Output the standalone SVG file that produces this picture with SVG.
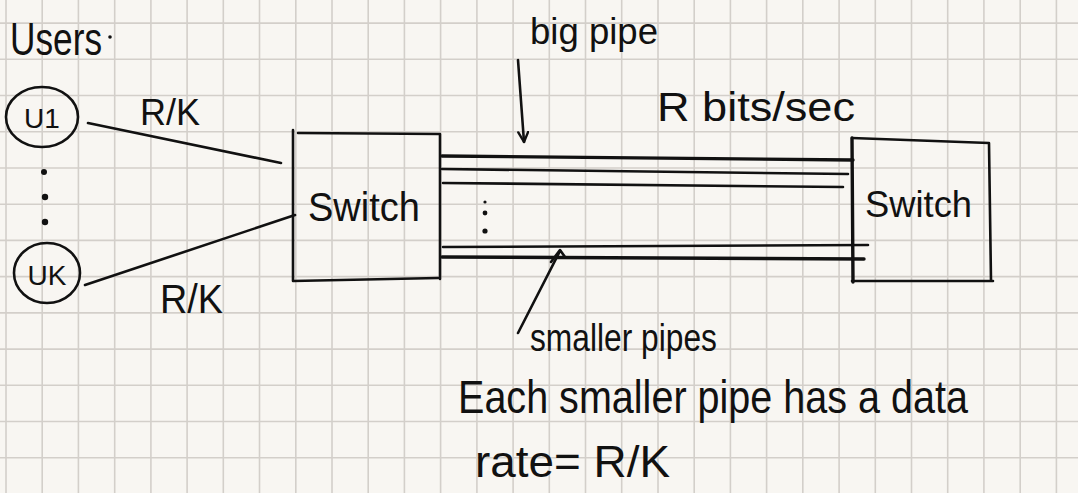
<svg xmlns="http://www.w3.org/2000/svg" width="1078" height="493" viewBox="0 0 1078 493">
<defs>
<style>
.ink{fill:none;stroke:#111;stroke-width:2.6;stroke-linecap:round;stroke-linejoin:round}
.thick{stroke-width:3.4}
.t{font-family:"Liberation Sans",Arial,sans-serif;fill:#111}
.grid{fill:none;stroke:#d3cfca;stroke-width:1.6}
</style>
<marker id="open" viewBox="0 0 12 12" refX="11" refY="6" markerWidth="12" markerHeight="12" markerUnits="userSpaceOnUse" orient="auto">
<path d="M1,1 L11,6 L1,11" fill="none" stroke="#111" stroke-width="2.4" stroke-linecap="round" stroke-linejoin="round"/>
</marker>
</defs>
<rect width="1078" height="493" fill="#f8f6f2"/>
<path class="grid" d="M6,0V493M42.2,0V493M78.4,0V493M114.7,0V493M150.9,0V493M187.1,0V493M223.3,0V493M259.5,0V493M295.8,0V493M332,0V493M368.2,0V493M404.4,0V493M440.6,0V493M476.9,0V493M513.1,0V493M549.3,0V493M585.5,0V493M621.7,0V493M658,0V493M694.2,0V493M730.4,0V493M766.6,0V493M802.8,0V493M839.1,0V493M875.3,0V493M911.5,0V493M947.7,0V493M983.9,0V493M1020.2,0V493M1056.4,0V493M0,23.1H1078M0,59.3H1078M0,95.5H1078M0,131.8H1078M0,168H1078M0,204.2H1078M0,240.4H1078M0,276.6H1078M0,312.9H1078M0,349.1H1078M0,385.3H1078M0,421.5H1078M0,457.7H1078"/>

<g id="users-label">
<text class="t" x="10" y="55" font-size="46" textLength="92" lengthAdjust="spacingAndGlyphs">Users</text>
<circle cx="110" cy="37" r="1.8" fill="#111"/>
</g>

<g id="u1">
<ellipse class="ink" cx="42" cy="117" rx="36" ry="30"/>
<text class="t" x="42" y="128" font-size="28" text-anchor="middle">U1</text>
</g>

<g id="dots">
<circle cx="44" cy="172" r="3" fill="#111"/>
<circle cx="45" cy="197" r="3.2" fill="#111"/>
<circle cx="45" cy="222" r="3.2" fill="#111"/>
</g>

<g id="uk">
<ellipse class="ink" cx="47" cy="273" rx="33" ry="30"/>
<text class="t" x="47" y="285" font-size="28" text-anchor="middle">UK</text>
</g>

<g id="switch-left">
<path class="ink" d="M293,130 L293,281 L438,278 M298,133 L440,134 L440,279"/>
<text class="t" x="308" y="221" font-size="40" textLength="112" lengthAdjust="spacingAndGlyphs">Switch</text>
</g>

<g id="switch-right">
<path class="ink" d="M852,138 L989,143 L991,281 M852,281 L993,281"/>
<path class="ink thick" d="M852,138 L853,282"/>
<text class="t" x="865" y="217" font-size="36" textLength="107" lengthAdjust="spacingAndGlyphs">Switch</text>
</g>

<g id="pipes">
<path class="ink thick" d="M442,156 L853,160"/>
<path class="ink" d="M442,169 L848,174"/>
<path class="ink" d="M443,183 L843,187"/>
<path class="ink" d="M443,247 L868,245"/>
<path class="ink thick" d="M442,257 L864,259"/>
<circle cx="485" cy="202" r="1.6" fill="#111"/>
<circle cx="485" cy="213" r="2.4" fill="#111"/>
<circle cx="485" cy="231" r="2.6" fill="#111"/>
</g>

<g id="connectors">
<path class="ink" d="M88,123 L281,163"/>
<path class="ink" d="M85,285 L295,215"/>
<path class="ink" d="M518,60 L524,142" marker-end="url(#open)"/>
<path class="ink" d="M518,333 L560,251"/>
<path class="ink" d="M551,262 L560,250 L565,257"/>
</g>

<g id="labels">
<text class="t" x="140" y="125" font-size="36" textLength="60" lengthAdjust="spacingAndGlyphs">R/K</text>
<text class="t" x="160" y="313" font-size="40" textLength="63" lengthAdjust="spacingAndGlyphs">R/K</text>
<text class="t" x="530" y="44" font-size="36" textLength="128" lengthAdjust="spacingAndGlyphs">big pipe</text>
<text class="t" x="657" y="121" font-size="40" textLength="198" lengthAdjust="spacingAndGlyphs">R bits/sec</text>
<text class="t" x="530" y="351" font-size="38" textLength="187" lengthAdjust="spacingAndGlyphs">smaller pipes</text>
<text class="t" x="458" y="413" font-size="46" textLength="510" lengthAdjust="spacingAndGlyphs">Each smaller pipe has a data</text>
<text class="t" x="475" y="477" font-size="44" textLength="195" lengthAdjust="spacingAndGlyphs">rate= R/K</text>
</g>
</svg>
